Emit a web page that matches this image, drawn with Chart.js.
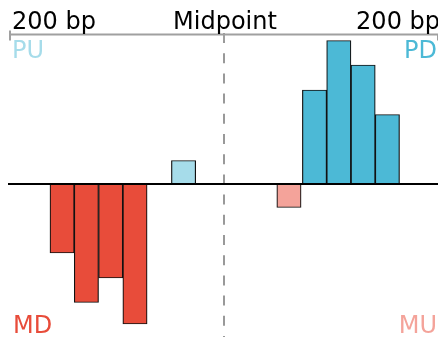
<!DOCTYPE html>
<html>
<head>
<meta charset="utf-8">
<script src="https://cdn.jsdelivr.net/npm/chart.js@4"></script>
<style>
html, body { margin: 0; padding: 0; background: #fff; }
canvas { display: block; }
</style>
</head>
<body>
<canvas id="chart" width="438" height="337"></canvas>
<script>
// bin centres (bp from midpoint) and bar heights
const puBins = [-37.8];
const puValues = [23.5];
const pdBins = [84.6, 107.3, 130.0, 152.7];
const pdValues = [94, 143.5, 119, 69.5];
const mdBins = [-151.3, -128.6, -105.9, -83.2];
const mdValues = [-69, -118.5, -94, -140];
const muBins = [60.7];
const muValues = [-23.5];

const axisTicks = [-200, 0, 200];
const axisLabels = ['200 bp', 'Midpoint', '200 bp'];

const colors = {
    PU: '#a6dcea',
    PD: '#4cb9d6',
    MD: '#e84c3a',
    MU: '#f4a39a'
};

function points(bins, values) {
    return bins.map((x, i) => ({ x: x, y: values[i] }));
}

function makeSet(name, bins, values) {
    return {
        label: name,
        data: points(bins, values),
        backgroundColor: colors[name],
        borderColor: '#111',
        borderWidth: 1.2,
        borderSkipped: false,
        barPercentage: 1,
        categoryPercentage: 1,
        grouped: false
    };
}

const font = '24px "DejaVu Sans"';

const overlay = {
    id: 'overlay',
    beforeDatasetsDraw(chart) {
        const ctx = chart.ctx;
        const x0 = chart.scales.x.getPixelForValue(0);
        ctx.save();
        ctx.strokeStyle = '#999';
        ctx.lineWidth = 2;
        ctx.setLineDash([10, 10.2]);
        ctx.beginPath();
        ctx.moveTo(x0, chart.chartArea.top - 1);
        ctx.lineTo(x0, chart.height);
        ctx.stroke();
        ctx.restore();
    },
    afterDatasetsDraw(chart) {
        const ctx = chart.ctx;
        const area = chart.chartArea;
        const xs = chart.scales.x;
        const y0 = chart.scales.y.getPixelForValue(0);
        ctx.save();

        // zero line
        ctx.strokeStyle = '#000';
        ctx.lineWidth = 2;
        ctx.beginPath();
        ctx.moveTo(area.left - 2, y0);
        ctx.lineTo(area.right, y0);
        ctx.stroke();

        // top axis
        const top = area.top + 0.5;
        ctx.strokeStyle = '#a0a0a0';
        ctx.beginPath();
        ctx.moveTo(area.left, top);
        ctx.lineTo(area.right, top);
        ctx.stroke();
        axisTicks.forEach((t, i) => {
            const px = xs.getPixelForValue(t);
            ctx.beginPath();
            ctx.moveTo(px, i === 0 ? top - 4 : top);
            ctx.lineTo(px, top + 6);
            ctx.stroke();
        });

        ctx.font = font;
        ctx.fillStyle = '#000';
        ctx.textBaseline = 'alphabetic';
        axisLabels.forEach((label, i) => {
            const px = xs.getPixelForValue(axisTicks[i]);
            if (i === 0) { ctx.textAlign = 'left'; ctx.fillText(label, px + 2, top - 6); }
            else if (i === axisLabels.length - 1) { ctx.textAlign = 'right'; ctx.fillText(label, px + 2, top - 6); }
            else { ctx.textAlign = 'center'; ctx.fillText(label, px + 1, top - 6); }
        });

        // corner labels
        ctx.textAlign = 'left';
        ctx.fillStyle = colors.PU;
        ctx.fillText('PU', area.left + 2, area.top + 24);
        ctx.fillStyle = colors.MD;
        ctx.fillText('MD', area.left + 3, area.bottom - 1);
        ctx.textAlign = 'right';
        ctx.fillStyle = colors.PD;
        ctx.fillText('PD', area.right - 1, area.top + 24);
        ctx.fillStyle = colors.MU;
        ctx.fillText('MU', area.right - 1, area.bottom - 1);

        ctx.restore();
    }
};

new Chart(document.getElementById('chart').getContext('2d'), {
    type: 'bar',
    data: {
        datasets: [
            makeSet('PU', puBins, puValues),
            makeSet('PD', pdBins, pdValues),
            makeSet('MD', mdBins, mdValues),
            makeSet('MU', muBins, muValues)
        ]
    },
    options: {
        responsive: false,
        animation: false,
        layout: { padding: { left: 10, right: 0, top: 34, bottom: 3 } },
        scales: {
            x: { type: 'linear', min: -200, max: 200, offset: false, display: false, ticks: { stepSize: 200 } },
            y: { type: 'linear', min: -150, max: 150, display: false }
        },
        plugins: {
            legend: { display: false },
            tooltip: { enabled: false }
        }
    },
    plugins: [overlay]
});
</script>
</body>
</html>
